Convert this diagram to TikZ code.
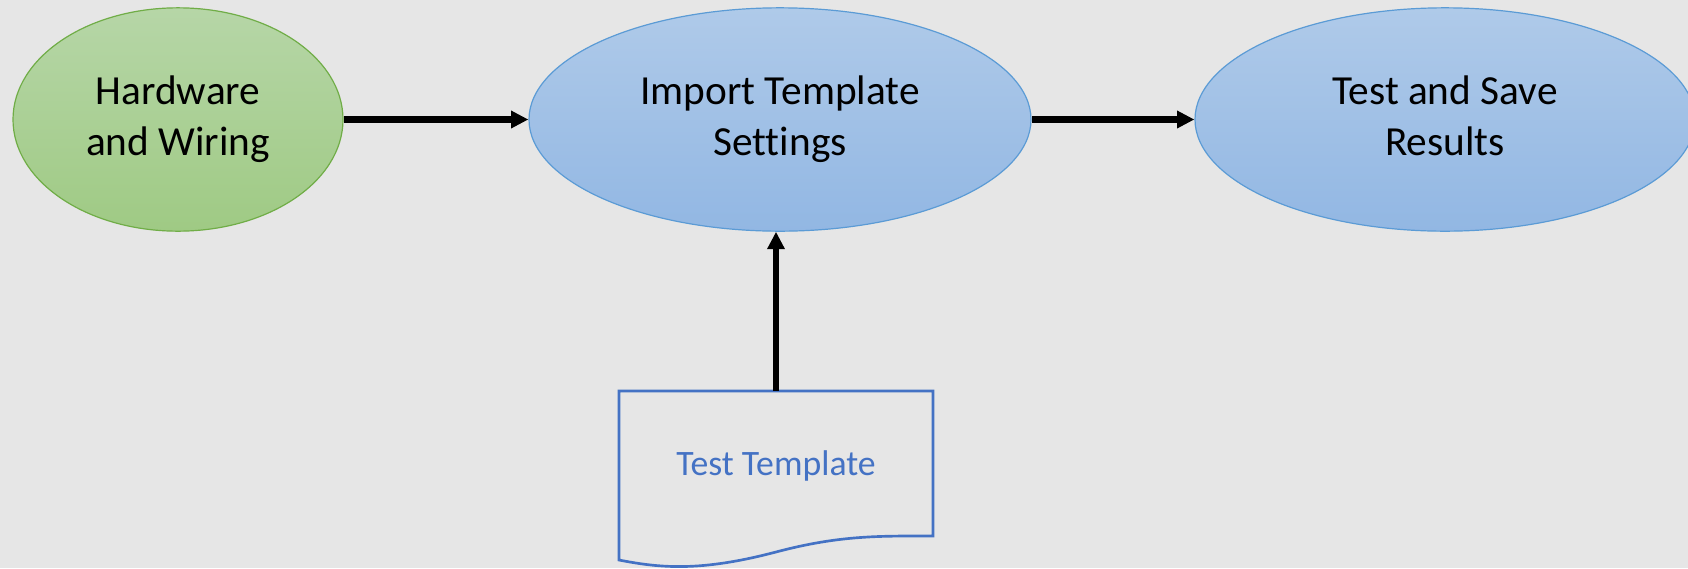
\documentclass[tikz,border=0pt]{standalone}
\usepackage{fontspec}
\setmainfont{Carlito}[Ligatures=CommonOff, RawFeature={-liga;-clig;-dlig;-calt}]
\usepackage{xcolor}
\usepackage{tikz}
\usetikzlibrary{arrows.meta, shapes.geometric}
\usetikzlibrary{positioning}

\definecolor{bggray}{HTML}{E6E6E6}
\definecolor{hwtop}{HTML}{B6D6A7}
\definecolor{hwbottom}{HTML}{9FCA84}
\definecolor{hwline}{HTML}{70AD47}
\definecolor{steptop}{HTML}{AFCAE9}
\definecolor{stepbottom}{HTML}{92B7E3}
\definecolor{stepline}{HTML}{5B9BD5}
\definecolor{docblue}{HTML}{4472C4}

\tikzset{
  procbox/.style={ellipse, inner sep=0pt, align=center, text=black,
    font=\fontsize{31}{38.5}\selectfont, minimum height=167.5pt},
  hwbox/.style={procbox, draw=hwline, line width=0.9pt,
    top color=hwtop, bottom color=hwbottom, minimum width=247.5pt},
  stepbox/.style={procbox, draw=stepline, line width=0.9pt,
    top color=steptop, bottom color=stepbottom},
  flow/.style={line width=5pt, -{Triangle[length=13pt, width=12.5pt]}}
}

\begin{document}
\begin{tikzpicture}[x=0.75pt, y=-0.75pt]
      \useasboundingbox (0, 0) rectangle (1688, 568);
      \fill[bggray] (0, 0) rectangle (1688, 568);

      \node[hwbox] (hw) at (178, 119.5) {\strut Hardware\\\strut and Wiring};
      \node[stepbox, minimum width=376.5pt] (import) at (780, 119.5) {\strut Import Template\\\strut Settings};
      \node[stepbox, minimum width=375pt] (save) at (1445, 119.5) {\strut Test and Save\\\strut Results};

      \draw[docblue, line width=2pt, line join=miter]
        (619, 391) -- (933, 391) -- (933, 536)
        .. controls (880, 536) and (840, 535) .. (776, 552)
        .. controls (700, 572) and (660, 568) .. (619, 560) -- cycle;
      \node[text=docblue, font=\fontsize{26.8}{32}\selectfont] (tmpl) at (776, 466) {Test Template};
      \coordinate (tmpltop) at (776, 391);

      \draw[flow] (hw.east) -- (import.west);
      \draw[flow] (import.east) -- (save.west);
      \draw[flow] (tmpltop) -- (tmpltop |- import.south);

    \end{tikzpicture}
\end{document}
